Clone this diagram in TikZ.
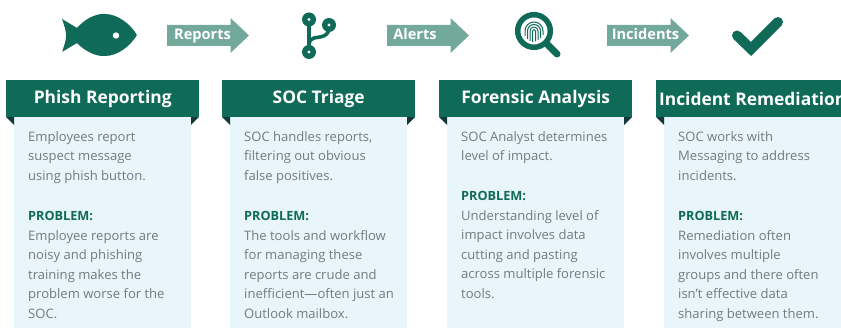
\documentclass[tikz,border=0pt]{standalone}
\usepackage{fontspec}
\setmainfont{Open Sans}
\usetikzlibrary{shapes.arrows}
\definecolor{bann}{HTML}{0F6B57}
\definecolor{fold}{HTML}{12383A}
\definecolor{pale}{HTML}{E8F5FB}
\definecolor{arrowc}{HTML}{73A99A}
\definecolor{bodyt}{HTML}{747B80}
\tikzset{
 x=1pt,y=-1pt,
 banner/.style={fill=bann,draw=none,inner sep=0,minimum width=193pt,minimum height=37pt,anchor=north west,text=white,font=\fontsize{17.4}{22}\selectfont\bfseries},
 panel/.style={fill=pale,draw=none},
 foldc/.style={fill=fold,draw=none},
 bodytext/.style={anchor=north west,inner sep=0,text=bodyt,align=left,font=\fontsize{13.05}{19.6}\selectfont,execute at begin node={\strut}},
 probtext/.style={anchor=base west,inner sep=0,text=bann,font=\fontsize{12.7}{19.6}\selectfont\bfseries},
 flow/.style={fill=arrowc,draw=none},
 flowtext/.style={text=white,inner sep=0,font=\fontsize{14.6}{17}\selectfont\bfseries},
 icon/.style={fill=bann,draw=none},
 iconline/.style={draw=bann,fill=none},
}
\newcommand{\colm}[6]{% x, name, title, intro, probY, prob
 \fill[panel] (#1+8,117) rectangle (#1+185,328);
 \fill[foldc] (#1,117) -- (#1+8,117) -- (#1+8,125) -- cycle;
 \fill[foldc] (#1+185,117) -- (#1+193,117) -- (#1+185,125) -- cycle;
 \node[banner] (#2) at (#1,80) {#3};
 \node[bodytext] (#2intro) at (#1+22,131) {#4};
 \node[probtext] (#2ph) at (#1+22,#5) {PROBLEM:};
 \node[bodytext] (#2prob) at (#1+22,#5+9) {#6};
}
\newcommand{\flowarrow}[4]{% x, name, label, text centre
 \fill[flow] (#1,25) -- (#1+63.5,25) -- (#1+63.5,18) -- (#1+82,35.5) -- (#1+63.5,53) -- (#1+63.5,46) -- (#1,46) -- cycle;
 \node[flowtext,anchor=base] (#2) at (#4,40) {#3};
}
\begin{document}
\begin{tikzpicture}
\useasboundingbox (0,0) rectangle (841,328);
\clip (0,0) rectangle (841,328);
\colm{6}{a}{Phish Reporting}{Employees report\\suspect message\\using phish button.}{221}{Employee reports are\\noisy and phishing\\training makes the\\problem worse for the\\SOC.}
\colm{222}{b}{SOC Triage}{SOC handles reports,\\filtering out obvious\\false positives.}{221}{The tools and workflow\\for managing these\\reports are crude and\\inefficient—often just an\\Outlook mailbox.}
\colm{439}{c}{Forensic Analysis}{SOC Analyst determines\\level of impact.}{201}{Understanding level of\\impact involves data\\cutting and pasting\\across multiple forensic\\tools.}
\colm{656}{d}{Incident Remediation}{SOC works with\\Messaging to address\\incidents.}{221}{Remediation often\\involves multiple\\groups and there often\\isn’t effective data\\sharing between them.}
\flowarrow{167}{f1}{Reports}{202.5}
\flowarrow{387}{f2}{Alerts}{415}
\flowarrow{607}{f3}{Incidents}{645.5}
% fish
\fill[icon,rounded corners=0.8pt] (62,19) -- (77,28) .. controls (85,19) and (95,14) .. (104,14) .. controls (118,14) and (130,24) .. (137,35) .. controls (130,46) and (118,56) .. (104,56) .. controls (95,56) and (85,51) .. (77,43) -- (62,52) .. controls (64,46) and (66,41) .. (66,35.5) .. controls (66,30) and (64,25) .. (62,19) -- cycle;
\fill[white] (116,35.5) circle (3.2);
% branch
\draw[iconline,line width=3.6pt] (309,19) -- (309,52);
\draw[iconline,line width=3.6pt] (329,25) -- (329,28) .. controls (329,33) and (326,36) .. (320,37) -- (314,38) .. controls (311,39) and (309,41) .. (309,44);
\fill[icon] (309,19.5) circle (7) (329,25) circle (7) (309,52) circle (7);
\fill[white] (309,19.5) circle (1.6) (329,25) circle (1.6) (309,52) circle (1.6);
% magnifier
\draw[iconline,line width=5.5pt] (534,31) circle (16.3);
\draw[iconline,line width=7pt,line cap=round] (548,45) -- (557,54);
\begin{scope}[iconline,line width=1pt]
\draw (525,36) -- (525,31) arc[start angle=180,end angle=0,x radius=9,y radius=-9] -- (543,35);
\draw (527.5,39) -- (527.5,31) arc[start angle=180,end angle=0,x radius=6.5,y radius=-6.5] -- (540.5,38);
\draw (530,41) -- (530,31) arc[start angle=180,end angle=0,x radius=4,y radius=-4] -- (538,40);
\draw (532.5,42) -- (532.5,31) arc[start angle=180,end angle=0,x radius=1.5,y radius=-1.5] -- (535.5,41.5);
\end{scope}
% check
\draw[iconline,line width=10pt,line cap=round] (737,35.5) -- (751,49) -- (778,22);
\end{tikzpicture}
\end{document}
